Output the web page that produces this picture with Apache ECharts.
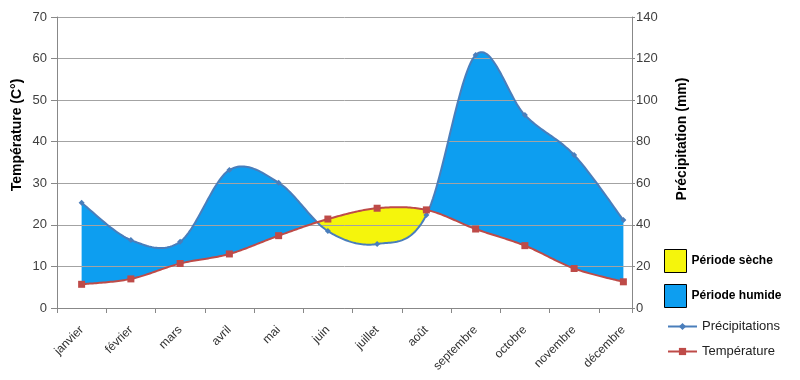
<!DOCTYPE html>
<html><head><meta charset="utf-8">
<script src="https://cdn.jsdelivr.net/npm/echarts@6/dist/echarts.min.js"></script>
<style>html,body{margin:0;padding:0;background:#fff}#c{width:800px;height:380px}</style>
</head><body><div id="c"></div>
<script>
const months = ['janvier','février','mars','avril','mai','juin','juillet','août','septembre','octobre','novembre','décembre'];
const temperature = [5.7, 7.0, 10.7, 13.0, 17.4, 21.4, 24.0, 23.6, 19.0, 15.0, 9.5, 6.3];
const precipitation = [50.6, 32.7, 31.9, 66.4, 60.3, 37.0, 30.8, 44.7, 121.7, 92.8, 73.6, 42.3];
const tempTicks = [0, 10, 20, 30, 40, 50, 60, 70];
const precTicks = [0, 20, 40, 60, 80, 100, 120, 140];
const tempMax = tempTicks[tempTicks.length - 1];
const precMax = precTicks[precTicks.length - 1];
const ratio = tempMax / precMax;

// layout (pixels)
const PLOT_L = 57, AXIS_R = 632, CAT_R = 648, PLOT_T = 17, PLOT_B = 308, W = 800, H = 380;
const tickAxisMax = months.length * (AXIS_R - PLOT_L) / (CAT_R - PLOT_L);

const FONT = '"Liberation Sans", Arial, sans-serif';
const BLUE_FILL = '#0d9ef0', YELLOW_FILL = '#f5f50c';
const BLUE_LINE = '#4a7ebb', RED_LINE = '#be4b48';
const AXIS_GREY = '#888';

function catmull(pts) {
  const out = []; const n = pts.length; const S = 30;
  for (let i = 0; i < n - 1; i++) {
    const p0 = pts[Math.max(i - 1, 0)], p1 = pts[i], p2 = pts[i + 1], p3 = pts[Math.min(i + 2, n - 1)];
    const c1 = [p1[0] + (p2[0] - p0[0]) / 6, p1[1] + (p2[1] - p0[1]) / 6];
    const c2 = [p2[0] - (p3[0] - p1[0]) / 6, p2[1] - (p3[1] - p1[1]) / 6];
    for (let s = (i === 0 ? 0 : 1); s <= S; s++) {
      const t = s / S, u = 1 - t;
      const a = u*u*u, b = 3*u*u*t, c = 3*u*t*t, d = t*t*t;
      out.push([a*p1[0] + b*c1[0] + c*c2[0] + d*p2[0], a*p1[1] + b*c1[1] + c*c2[1] + d*p2[1]]);
    }
  }
  return out;
}
function curve(api, values, scale) {
  return catmull(values.map((v, i) => api.coord([i, v * scale])));
}
function fillRender(kind, color) {
  return function (params, api) {
    const P = curve(api, precipitation, ratio);
    const T = curve(api, temperature, 1);
    const top = kind === 'wet' ? P : T;
    const other = kind === 'wet' ? T : P;
    const bottom = top.map((p, k) => [p[0], Math.max(p[1], other[k][1])]).reverse();
    return { type: 'polygon', silent: true, shape: { points: top.concat(bottom) }, style: { fill: color } };
  };
}

const chart = echarts.init(document.getElementById('c'), null, { renderer: 'canvas' });
chart.setOption({
  animation: false,
  backgroundColor: '#fff',
  textStyle: { fontFamily: FONT },
  grid: [
    { left: PLOT_L, right: W - CAT_R, top: PLOT_T, bottom: H - PLOT_B },
    { left: PLOT_L, right: W - AXIS_R, top: PLOT_T, bottom: H - PLOT_B }
  ],
  xAxis: [
    {
      gridIndex: 0, type: 'category', data: months, boundaryGap: true, z: 2,
      axisLine: { show: false }, axisTick: { show: false },
      axisLabel: { rotate: 45, fontSize: 12, color: '#303030', margin: 20, fontFamily: FONT },
      splitLine: { show: false }
    },
    {
      gridIndex: 1, type: 'value', min: 0, max: tickAxisMax, interval: 1, z: 2,
      axisLine: { show: true, lineStyle: { color: AXIS_GREY, width: 1 } },
      axisTick: { show: true, length: 5, lineStyle: { color: AXIS_GREY } },
      axisLabel: { show: false }, splitLine: { show: false }
    }
  ],
  yAxis: [
    { gridIndex: 0, type: 'value', show: false, min: tempTicks[0], max: tempMax, interval: tempTicks[1] - tempTicks[0], splitLine: { show: false } },
    { gridIndex: 0, type: 'value', show: false, min: precTicks[0], max: precMax, interval: precTicks[1] - precTicks[0], splitLine: { show: false } },
    {
      gridIndex: 1, type: 'value', position: 'left', min: tempTicks[0], max: tempMax, interval: tempTicks[1] - tempTicks[0], z: 2,
      axisLine: { show: true, lineStyle: { color: AXIS_GREY } },
      axisTick: { show: true, length: 6, lineStyle: { color: AXIS_GREY } },
      axisLabel: { fontSize: 13, color: '#404040', margin: 10, fontFamily: FONT },
      splitLine: { show: true, lineStyle: { color: '#a3a3a3', width: 1 } }
    },
    {
      gridIndex: 1, type: 'value', position: 'right', min: precTicks[0], max: precMax, interval: precTicks[1] - precTicks[0], z: 2,
      axisLine: { show: true, lineStyle: { color: AXIS_GREY } },
      axisTick: { show: true, length: 3, lineStyle: { color: AXIS_GREY } },
      axisLabel: { fontSize: 13, color: '#404040', margin: 4, fontFamily: FONT },
      splitLine: { show: false }
    }
  ],
  legend: [
    {
      orient: 'vertical', left: 664, top: 249, padding: 0, itemWidth: 22, itemHeight: 23, itemGap: 11,
      icon: 'rect', selectedMode: false,
      itemStyle: { borderColor: '#000', borderWidth: 1 },
      textStyle: { fontSize: 12, fontWeight: 'bold', color: '#000', fontFamily: FONT },
      data: ['Période sèche', 'Période humide']
    },
    {
      orient: 'vertical', left: 667, top: 320, padding: 0, itemWidth: 29, itemHeight: 9, itemGap: 12,
      selectedMode: false,
      textStyle: { fontSize: 13, color: '#222', fontFamily: FONT },
      data: [
        { name: 'Précipitations', lineStyle: { opacity: 1, width: 2, color: BLUE_LINE } },
        { name: 'Température', lineStyle: { opacity: 1, width: 2, color: RED_LINE } }
      ]
    }
  ],
  graphic: [
    { type: 'text', x: 17, y: 135, rotation: Math.PI / 2,
      style: { text: 'Température (C°)', font: 'bold 14px ' + FONT, fill: '#000', textAlign: 'center', textVerticalAlign: 'middle' } },
    { type: 'text', x: 682, y: 139, rotation: Math.PI / 2,
      style: { text: 'Précipitation (mm)', font: 'bold 14px ' + FONT, fill: '#000', textAlign: 'center', textVerticalAlign: 'middle' } }
  ],
  series: [
    { name: 'Période humide', type: 'custom', xAxisIndex: 0, yAxisIndex: 0, z: 1, itemStyle: { color: BLUE_FILL },
      data: [[0, 0]], renderItem: fillRender('wet', BLUE_FILL) },
    { name: 'Période sèche', type: 'custom', xAxisIndex: 0, yAxisIndex: 0, z: 1, itemStyle: { color: YELLOW_FILL },
      data: [[0, 0]], renderItem: fillRender('dry', YELLOW_FILL) },
    { name: 'courbes', type: 'custom', xAxisIndex: 0, yAxisIndex: 0, z: 3, data: [[0, 0]],
      renderItem: function (params, api) {
        return { type: 'group', silent: true, children: [
          { type: 'polyline', shape: { points: curve(api, precipitation, ratio) }, style: { stroke: BLUE_LINE, lineWidth: 2, fill: null } },
          { type: 'polyline', shape: { points: curve(api, temperature, 1) }, style: { stroke: RED_LINE, lineWidth: 2, fill: null } }
        ] };
      } },
    { name: 'Précipitations', type: 'line', xAxisIndex: 0, yAxisIndex: 1, z: 4, data: precipitation,
      symbol: 'diamond', symbolSize: 6, showSymbol: true,
      itemStyle: { color: BLUE_LINE }, lineStyle: { opacity: 0 } },
    { name: 'Température', type: 'line', xAxisIndex: 0, yAxisIndex: 0, z: 4, data: temperature,
      symbol: 'rect', symbolSize: 7, showSymbol: true,
      itemStyle: { color: RED_LINE }, lineStyle: { opacity: 0 } }
  ]
});
</script></body></html>
